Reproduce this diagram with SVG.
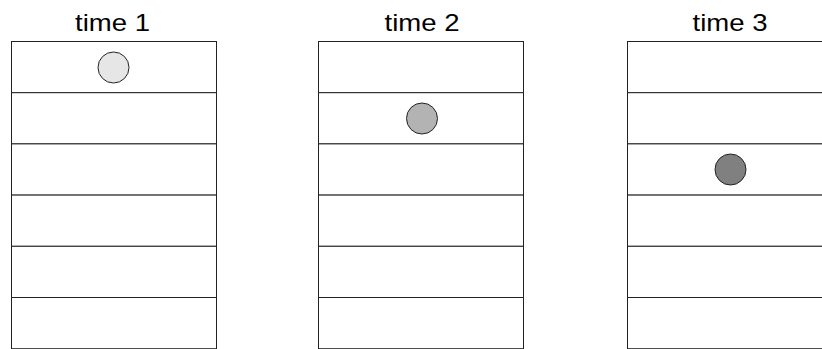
<svg xmlns="http://www.w3.org/2000/svg" width="822" height="349" viewBox="0 0 822 349">
<style>
.cell{fill:#fff;stroke:#222;stroke-width:1}
.lbl{font-family:"Liberation Sans",Arial,sans-serif;font-size:24px;fill:#000;text-anchor:middle}
.dot{stroke:#222;stroke-width:1}
</style>
<rect width="822" height="349" fill="#fff"/>
<g id="column1">
<text class="lbl" x="112.5" y="30.5" textLength="75" lengthAdjust="spacingAndGlyphs">time 1</text>
<rect class="cell" x="11.5" y="41.5" width="205" height="51.2"/>
<rect class="cell" x="11.5" y="92.7" width="205" height="51.2"/>
<rect class="cell" x="11.5" y="143.9" width="205" height="51.2"/>
<rect class="cell" x="11.5" y="195.1" width="205" height="51.2"/>
<rect class="cell" x="11.5" y="246.3" width="205" height="51.2"/>
<rect class="cell" x="11.5" y="297.5" width="205" height="51.2"/>
</g>
<g id="column2">
<text class="lbl" x="422" y="30.5" textLength="75" lengthAdjust="spacingAndGlyphs">time 2</text>
<rect class="cell" x="318.5" y="41.5" width="205" height="51.2"/>
<rect class="cell" x="318.5" y="92.7" width="205" height="51.2"/>
<rect class="cell" x="318.5" y="143.9" width="205" height="51.2"/>
<rect class="cell" x="318.5" y="195.1" width="205" height="51.2"/>
<rect class="cell" x="318.5" y="246.3" width="205" height="51.2"/>
<rect class="cell" x="318.5" y="297.5" width="205" height="51.2"/>
</g>
<g id="column3">
<text class="lbl" x="730" y="30.5" textLength="75" lengthAdjust="spacingAndGlyphs">time 3</text>
<rect class="cell" x="627.5" y="41.5" width="205" height="51.2"/>
<rect class="cell" x="627.5" y="92.7" width="205" height="51.2"/>
<rect class="cell" x="627.5" y="143.9" width="205" height="51.2"/>
<rect class="cell" x="627.5" y="195.1" width="205" height="51.2"/>
<rect class="cell" x="627.5" y="246.3" width="205" height="51.2"/>
<rect class="cell" x="627.5" y="297.5" width="205" height="51.2"/>
</g>
<g id="ball1"><circle class="dot" cx="113.5" cy="67.5" r="15.5" fill="#e6e6e6"/></g>
<g id="ball2"><circle class="dot" cx="422" cy="118.5" r="15.5" fill="#b3b3b3"/></g>
<g id="ball3"><circle class="dot" cx="730.5" cy="169.5" r="15.5" fill="#808080"/></g>
<g id="connectors"></g>
</svg>
